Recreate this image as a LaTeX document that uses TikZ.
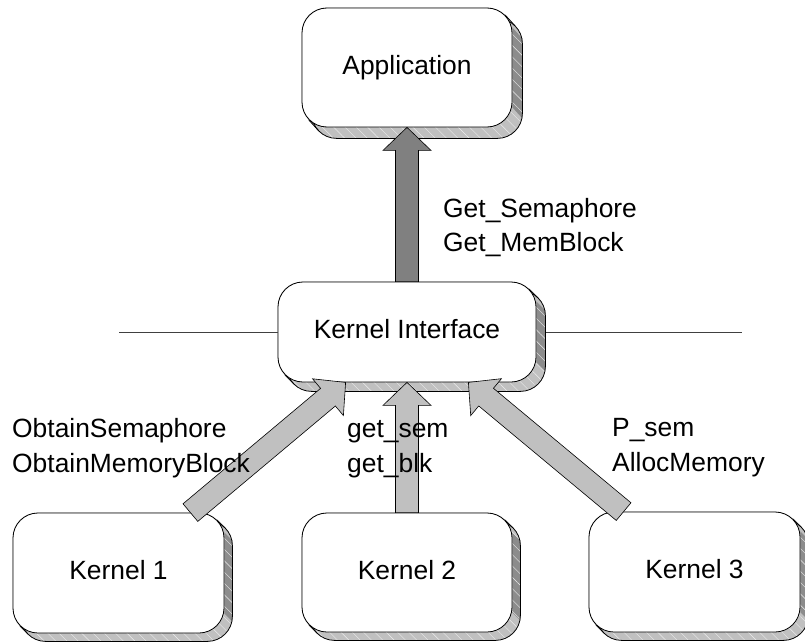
\documentclass[tikz,border=0pt]{standalone}
\usepackage{fontspec}
\setmainfont{Liberation Sans}
\usetikzlibrary{calc,patterns.meta}
\pgfdeclarelayer{bg}
\pgfsetlayers{bg,main}
\definecolor{shlight}{HTML}{C0C0C0}
\definecolor{shdark}{HTML}{8C8C8C}
\definecolor{arrlight}{HTML}{C0C0C0}
\definecolor{arrdark}{HTML}{808080}
\tikzset{
  box/.style={draw=black, line width=0.8pt, fill=white, rounded corners=25pt,
    inner sep=0pt, text height=18.5pt, text depth=5pt,
    font=\fontsize{26.4}{30}\selectfont},
  lbl/.style={anchor=base west, inner sep=0pt, font=\fontsize{26.4}{30}\selectfont},
  sideline/.style={draw=black!75, line width=0.8pt},
  blockarr/.style={draw=black, line width=0.6pt, line join=miter}
}
% shadow (extrusion) of a box: name, dx, dy
\newcommand\boxshadow[3]{%
  \foreach \t in {0,0.125,...,1.01}{
    \fill[shlight, rounded corners=25pt] ($(#1.south west)+(\t*#2,\t*#3)$) rectangle ($(#1.north east)+(\t*#2,\t*#3)$);
  }
  \fill[shdark] ($(#1.north east)+(0,20)$) -- ++(#2,#3) -- ($(#1.south east)+(#2,#3-20)$) -- ($(#1.south east)+(0,-20)$) -- cycle;
  \path[rounded corners=25pt, pattern={Lines[angle=-45,distance=8pt,line width=0.4pt]}, pattern color=white!70!shlight]
    ($(#1.south west)+(#2,#3)$) rectangle ($(#1.north east)+(#2,#3)$);
  \draw[line width=0.8pt, rounded corners=25pt] ($(#1.south west)+(#2,#3)$) rectangle ($(#1.north east)+(#2,#3)$);
  \draw[line width=0.8pt] ($(#1.north east)+(-7.32,7.32)$) -- ++(#2,#3);
  \draw[line width=0.8pt] ($(#1.south west)+(7.32,-7.32)$) -- ++(#2,#3);
}
% block arrow: from, to, fill colour
\newcommand\barrow[3]{%
  \coordinate (hb) at ($(#2)!23pt!(#1)$);
  \draw[blockarr, fill=#3]
    ($(#1)!11.5pt!90:(#2)$) -- ($(hb)!11.5pt!-90:(#1)$) -- ($(hb)!24pt!-90:(#1)$) -- (#2)
    -- ($(hb)!24pt!90:(#1)$) -- ($(hb)!11.5pt!90:(#1)$) -- ($(#1)!11.5pt!-90:(#2)$) -- cycle;
}
\begin{document}
\begin{tikzpicture}[x=1pt, y=-1pt]
\useasboundingbox (0,0) rectangle (805,642);

% boxes
\node[box, minimum width=210pt, minimum height=119pt] (app) at (407,67.5) {Application};
\node[box, minimum width=258pt, minimum height=100pt] (ki)  at (407,332) {Kernel Interface};
\node[box, minimum width=211pt, minimum height=120pt] (k1)  at (118.5,573) {Kernel 1};
\node[box, minimum width=210pt, minimum height=119pt] (k2)  at (407,572.5) {Kernel 2};
\node[box, minimum width=211pt, minimum height=120pt] (k3)  at (694.5,572) {Kernel 3};

\coordinate (ll) at (119,332);
\coordinate (lr) at (742,332);

\begin{pgfonlayer}{bg}
  \draw[sideline] (ll) -- (ki.west);
  \draw[sideline] (ki.east) -- (lr);
  \boxshadow{app}{10}{11}
  \boxshadow{ki}{9}{9}
  \boxshadow{k1}{8}{8}
  \boxshadow{k2}{8}{8}
  \boxshadow{k3}{8}{8}
\end{pgfonlayer}

% arrow end points
\coordinate (t1) at ($(k1.north east)+(-34,0)$);
\coordinate (h1) at ($(ki.south west)+(68,0)$);
\coordinate (t3) at ($(k3.north west)+(35,0)$);
\coordinate (h3) at ($(ki.south east)+(-68,0)$);

\barrow{ki.north}{app.south}{arrdark}
\barrow{k2.north}{ki.south}{arrlight}
\barrow{t1}{h1}{arrlight}
\barrow{t3}{h3}{arrlight}

% labels
\node[lbl] (gs) at (443,217) {Get\_Semaphore};
\node[lbl] (gm) at (443,251) {Get\_MemBlock};
\node[lbl] (os) at (12,437) {ObtainSemaphore};
\node[lbl] (om) at (12,472) {ObtainMemoryBlock};
\node[lbl] (ls) at (347,437) {get\_sem};
\node[lbl] (lb) at (347,472) {get\_blk};
\node[lbl] (ps) at (612,436) {P\_sem};
\node[lbl] (am) at (612,471) {AllocMemory};
\end{tikzpicture}
\end{document}
